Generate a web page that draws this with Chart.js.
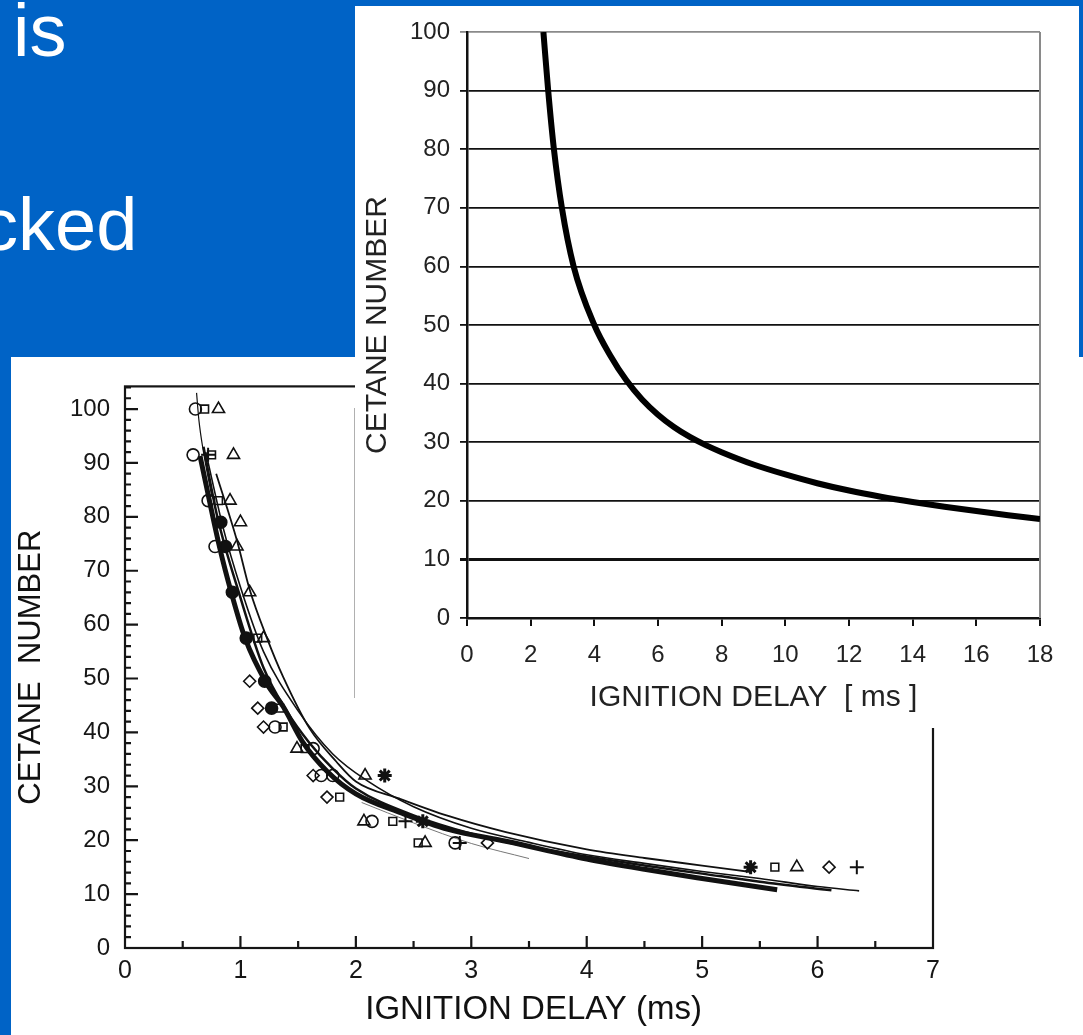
<!DOCTYPE html>
<html>
<head>
<meta charset="utf-8">
<script src="https://cdn.jsdelivr.net/npm/chart.js@4/dist/chart.umd.min.js"></script>
<style>
html, body { margin: 0; padding: 0; }
body { width: 1083px; height: 1035px; background: #0063c6; position: relative; overflow: hidden;
       font-family: 'Liberation Sans', Arial, sans-serif; }
.slideText { position: absolute; color: #fff; font-size: 74px; line-height: 1; white-space: nowrap; }
#scanBox { position: absolute; left: 11px; top: 357px; width: 1072px; height: 678px; background: #fff; }
#insetBox { position: absolute; left: 355px; top: 6px; width: 724px; height: 722px; background: #fff; }
#insetEdge { position: absolute; left: 354px; top: 408px; width: 1px; height: 290px; background: #b0b0b0; }
canvas { display: block; }
</style>
</head>
<body>
<div class="slideText" style="left:13px; top:-6px;">is</div>
<div class="slideText" style="left:-19px; top:188px;">cked</div>
<div id="scanBox"><canvas id="scan" width="1072" height="678"></canvas></div>
<div id="insetBox"><canvas id="inset" width="724" height="722"></canvas></div>
<div id="insetEdge"></div>
<script>
'use strict';

// inset chart (top right): one fitted curve
var insetDelay = [2.40, 2.55, 2.73, 2.98, 3.35, 4.0, 4.5, 5.0, 5.5, 6.0, 6.5, 7.0, 7.5, 8, 9, 10, 11, 12, 13, 14, 15, 16, 17, 18];
var insetCetane = [100, 90, 80, 70, 60, 50, 44.8, 40.6, 37.3, 34.7, 32.6, 30.9, 29.5, 28.3, 26.2, 24.5, 23.0, 21.75, 20.7, 19.8, 19.0, 18.25, 17.55, 16.9];

// scanned chart (bottom left): fitted curves
var bundleDelay = [0.65, 0.82, 0.92, 1.04, 1.23, 1.37, 1.54, 1.75, 2.0, 2.4, 2.8, 3.3, 4, 4.5, 5, 5.65];
var bundleCetane = [91.3, 74.3, 66, 57.5, 49, 44.8, 38.2, 32.8, 28.6, 25, 22, 19.8, 16.5, 14.6, 12.9, 10.8];
var secondDelay = [0.68, 0.8, 1.0, 1.2, 1.4, 1.6, 1.8, 2.0, 2.5, 3, 3.5, 4, 4.5, 5, 5.5, 6.12];
var secondCetane = [93, 80, 65, 52, 44, 38, 33.3, 29.6, 24.6, 21.2, 18.8, 17.0, 15.3, 13.8, 12.3, 10.7];
var longDelay = [0.7, 0.85, 1.0, 1.2, 1.5, 1.8, 2.1, 2.5, 3, 3.5, 4, 4.5, 5, 5.5, 6, 6.36];
var longCetane = [92, 78, 67, 55, 44, 36, 31, 26.2, 22.2, 19.6, 17.3, 15.7, 14.2, 12.9, 11.4, 10.6];
var upperDelay = [0.79, 0.97, 1.08, 1.23, 1.37, 1.6, 1.83, 2.0, 2.38, 2.8, 3.3, 4, 4.5, 5, 5.42];
var upperCetane = [88, 75.6, 66.5, 57.5, 50.3, 40.7, 34.6, 30.9, 27.7, 24.5, 21.5, 18.3, 16.7, 15.3, 14.1];
var thinDelay = [0.62, 0.64, 0.68, 0.75];
var thinCetane = [103, 98, 92, 84];
var faintDelay = [2.05, 2.5, 3.0, 3.5];
var faintCetane = [27, 23.2, 19.4, 16.6];

// scanned chart: measured points by marker
var circlePts = [[0.61, 100], [0.59, 91.5], [0.72, 83], [0.78, 74.5], [1.3, 41], [1.63, 37], [1.7, 32], [1.8, 32], [2.14, 23.5], [2.86, 19.5]];
var squarePts = [[0.69, 100], [0.75, 91.5], [0.81, 83], [1.15, 57.5], [1.34, 44.5], [1.37, 41], [1.56, 37], [1.86, 28], [2.32, 23.5], [2.54, 19.5], [5.63, 15]];
var trianglePts = [[0.81, 100], [0.94, 91.5], [0.91, 83], [1.0, 79], [0.97, 74.5], [1.08, 66], [1.2, 57.5], [1.49, 37], [2.08, 32], [2.07, 23.5], [2.6, 19.5], [5.82, 15]];
var diamondPts = [[1.08, 49.5], [1.15, 44.5], [1.2, 41], [1.63, 32], [1.75, 28], [3.14, 19.5], [6.1, 15]];
var dotPts = [[0.83, 79], [0.87, 74.5], [0.93, 66], [1.05, 57.5], [1.21, 49.5], [1.27, 44.5]];
var plusPts = [[0.72, 91.5], [2.43, 23.5], [2.9, 19.5], [6.34, 15]];
var starPts = [[2.25, 32], [2.58, 23.5], [5.42, 15]];

// tick marks of the scanned axes
var scanMajorX = [1, 2, 3, 4, 5, 6];
var scanMinorX = [0.5, 1.5, 2.5, 3.5, 4.5, 5.5, 6.5];
var scanMajorY = [10, 20, 30, 40, 50, 60, 70, 80, 90, 100];
var scanMinorY = [2, 4, 6, 8, 12, 14, 16, 18, 22, 24, 26, 28, 32, 34, 36, 38, 42, 44, 46, 48, 52, 54, 56, 58, 62, 64, 66, 68, 72, 74, 76, 78, 82, 84, 86, 88, 92, 94, 96, 98, 102, 104];

var FONT = "'Liberation Sans', Arial, sans-serif";
Chart.defaults.font.family = FONT;

var toXY = function(xs, ys) {
	return xs.map(function(v, i) { return {x: v, y: ys[i]}; });
};
var toPts = function(arr) {
	return arr.map(function(p) { return {x: p[0], y: p[1]}; });
};

var lineSet = function(xs, ys, width, color) {
	return {
		data: toXY(xs, ys), showLine: true, borderColor: color || '#111', borderWidth: width,
		pointRadius: 0, cubicInterpolationMode: 'monotone', fill: false
	};
};
var markSet = function(arr, style, radius, filled, width) {
	return {
		data: toPts(arr), showLine: false, pointStyle: style, pointRadius: radius,
		pointBorderColor: '#111', pointBackgroundColor: filled ? '#111' : 'rgba(255,255,255,0)',
		pointBorderWidth: width || 1.6
	};
};

// frame and inward ticks of the scanned chart
var scanFrame = {
	id: 'scanFrame',
	beforeDatasetsDraw: function(chart) {
		var ctx = chart.ctx, a = chart.chartArea, x = chart.scales.x, y = chart.scales.y;
		ctx.save();
		ctx.strokeStyle = '#151515';
		ctx.lineWidth = 2.2;
		ctx.strokeRect(a.left, a.top, a.right - a.left, a.bottom - a.top);
		ctx.beginPath();
		scanMajorX.forEach(function(v) { var p = x.getPixelForValue(v); ctx.moveTo(p, a.bottom); ctx.lineTo(p, a.bottom - 12); });
		scanMinorX.forEach(function(v) { var p = x.getPixelForValue(v); ctx.moveTo(p, a.bottom); ctx.lineTo(p, a.bottom - 7); });
		scanMajorY.forEach(function(v) { var p = y.getPixelForValue(v); ctx.moveTo(a.left, p); ctx.lineTo(a.left + 13, p); });
		scanMinorY.forEach(function(v) { var p = y.getPixelForValue(v); ctx.moveTo(a.left, p); ctx.lineTo(a.left + 6, p); });
		ctx.stroke();
		ctx.restore();
	}
};

var scanChart = new Chart(document.getElementById('scan').getContext('2d'), {
	type: 'scatter',
	data: {
		datasets: [
			markSet(circlePts, 'circle', 6, false),
			markSet(squarePts, 'rect', 5.5, false),
			markSet(trianglePts, 'triangle', 7, false),
			markSet(diamondPts, 'rectRot', 6, false),
			markSet(dotPts, 'circle', 6, true),
			markSet(plusPts, 'cross', 7, false, 2),
			markSet(starPts, 'star', 7, false, 3),
			lineSet(bundleDelay, bundleCetane, 5),
			lineSet(secondDelay, secondCetane, 2.5),
			lineSet(longDelay, longCetane, 1.6),
			lineSet(upperDelay, upperCetane, 1.8),
			lineSet(thinDelay, thinCetane, 1.2),
			lineSet(faintDelay, faintCetane, 1, '#777')
		]
	},
	options: {
		responsive: false,
		animation: false,
		layout: {padding: {top: 15, right: 150, left: 0, bottom: 0}},
		plugins: {legend: {display: false}, tooltip: {enabled: false}},
		scales: {
			x: {
				type: 'linear', min: 0, max: 7,
				afterFit: function(s) { s.height = 87; },
				grid: {display: false, drawTicks: false},
				border: {display: false},
				ticks: {stepSize: 1, padding: 8, color: '#161616', font: {size: 25}},
				title: {display: true, text: ' IGNITION DELAY (ms)', color: '#111', font: {size: 33}, padding: {top: 0, bottom: 5}}
			},
			y: {
				type: 'linear', min: 0, max: 104.2,
				afterFit: function(s) { s.width = 114; },
				grid: {display: false, drawTicks: false},
				border: {display: false},
				ticks: {stepSize: 10, includeBounds: false, padding: 15, color: '#161616', font: {size: 24}},
				title: {display: true, text: 'CETANE  NUMBER', color: '#111', font: {size: 31}, padding: {top: 2, bottom: 0}}
			}
		}
	},
	plugins: [scanFrame]
});

// grey right border of the inset plot
var insetBorder = {
	id: 'insetBorder',
	beforeDatasetsDraw: function(chart) {
		var ctx = chart.ctx, a = chart.chartArea;
		ctx.save();
		ctx.strokeStyle = '#8a8a8a';
		ctx.lineWidth = 2;
		ctx.beginPath();
		ctx.moveTo(a.right, a.top);
		ctx.lineTo(a.right, a.bottom);
		ctx.stroke();
		ctx.restore();
	}
};

var insetChart = new Chart(document.getElementById('inset').getContext('2d'), {
	type: 'scatter',
	data: {
		datasets: [{
			data: toXY(insetDelay, insetCetane), showLine: true, borderColor: '#000', borderWidth: 6,
			pointRadius: 0, cubicInterpolationMode: 'monotone', fill: false
		}]
	},
	options: {
		responsive: false,
		animation: false,
		layout: {padding: {top: 26, right: 39, left: 0, bottom: 0}},
		plugins: {legend: {display: false}, tooltip: {enabled: false}},
		scales: {
			x: {
				type: 'linear', min: 0, max: 18,
				afterFit: function(s) { s.height = 110; },
				grid: {drawOnChartArea: false, drawTicks: true, tickLength: 8, color: '#111', lineWidth: 2},
				border: {display: true, color: '#111', width: 2.5},
				ticks: {stepSize: 2, padding: 15, color: '#222', font: {size: 24}},
				title: {display: true, text: 'IGNITION DELAY  [ ms ]', color: '#222', font: {size: 30}, padding: {top: 0, bottom: 12}}
			},
			y: {
				type: 'linear', min: 0, max: 100,
				afterFit: function(s) { s.width = 112; },
				grid: {
					drawTicks: true, tickLength: 7,
					color: function(c) { return c.tick && c.tick.value === 100 ? '#8a8a8a' : '#111'; },
					lineWidth: function(c) { return c.tick && c.tick.value === 10 ? 3 : 1.8; }
				},
				border: {display: true, color: '#111', width: 2.5},
				ticks: {stepSize: 10, padding: 10, color: '#222', font: {size: 24}},
				title: {display: true, text: 'CETANE NUMBER', color: '#222', font: {size: 30}, padding: {top: 5, bottom: 0}}
			}
		}
	},
	plugins: [insetBorder]
});
</script>
</body>
</html>
